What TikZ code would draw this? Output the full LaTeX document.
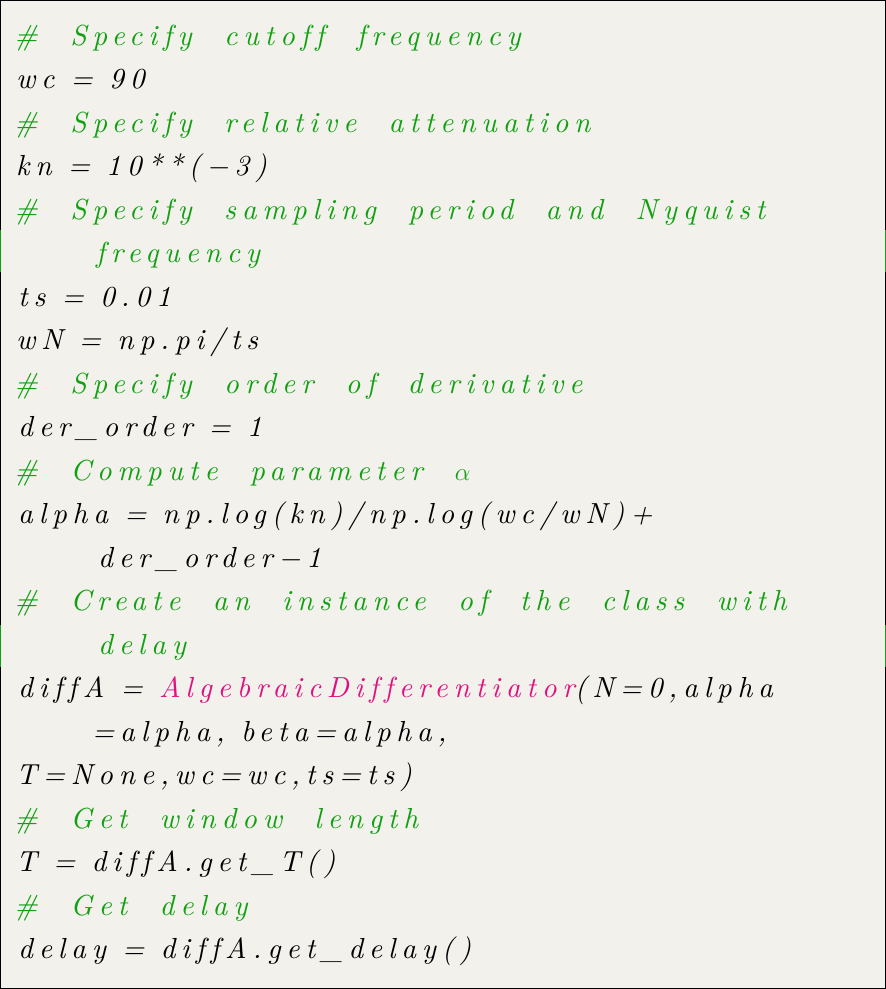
\documentclass[tikz,border=0pt]{standalone}
\usepackage{fontspec}
\newfontface\code{lmroman10-italic.otf}[LetterSpace=20,Ligatures={NoCommon}]
\definecolor{bg}{HTML}{F2F1EC}
\definecolor{cmtc}{HTML}{10A010}
\definecolor{pk}{HTML}{E0107F}
\begin{document}
\begin{tikzpicture}[x=1pt,y=-1pt,
  ln/.style={anchor=base west,inner sep=0pt,font=\code\fontsize{29}{29}\selectfont},
  cmt/.style={ln,text=cmtc}]
\useasboundingbox (0,0) rectangle (886,989);
\fill[bg,draw=black,line width=1.2pt] (0.6,0.6) rectangle (885.4,988.4);
\foreach \yy in {230,625}{
  \draw[draw=cmtc,line width=1.2pt] (0.6,\yy) -- (0.6,\yy+42);
  \draw[draw=cmtc,line width=1.2pt] (885.4,\yy) -- (885.4,\yy+42);}
\def\L#1{45+43.5*#1}
\node[cmt] (l0) at (14,{\L0}) {\#~ Specify~ cutoff~ frequency};
\node[ln] (l1) at (16,{\L1}) {wc = 90};
\node[cmt] (l2) at (14,{\L2}) {\#~ Specify~ relative~ attenuation};
\node[ln] (l3) at (16,{\L3}) {kn = 10**(−3)};
\node[cmt] (l4) at (14,{\L4}) {\#~ Specify~ sampling~ period~ and~ Nyquist};
\node[cmt] (l5) at (96,{\L5}) {frequency};
\node[ln] (l6) at (18,{\L6}) {ts = 0.01};
\node[ln] (l7) at (16,{\L7}) {wN = np.pi/ts};
\node[cmt] (l8) at (14,{\L8}) {\#~ Specify~ order~ of~ derivative};
\node[ln] (l9) at (18,{\L9}) {der\_order = 1};
\node[cmt] (l10) at (14,{\L{10}}) {\#~ Compute~ parameter~ $\alpha$};
\node[ln] (l11) at (18,{\L{11}}) {alpha = np.log(kn)/np.log(wc/wN)+};
\node[ln] (l12) at (98,{\L{12}}) {der\_order−1};
\node[cmt] (l13) at (14,{\L{13}}) {\#~ Create~ an~ instance~ of~ the~ class~ with};
\node[cmt] (l14) at (98,{\L{14}}) {delay};
\node[ln] (l15) at (18,{\L{15}}) {diffA = \textcolor{pk}{AlgebraicDifferentiator}(N=0,alpha};
\node[ln] (l16) at (92,{\L{16}}) {=alpha, beta=alpha,};
\node[ln] (l17) at (16,{\L{17}}) {T=None,wc=wc,ts=ts)};
\node[cmt] (l18) at (14,{\L{18}}) {\#~ Get~ window~ length};
\node[ln] (l19) at (16,{\L{19}}) {T = diffA.get\_T()};
\node[cmt] (l20) at (14,{\L{20}}) {\#~ Get~ delay};
\node[ln] (l21) at (18,{\L{21}}) {delay = diffA.get\_delay()};
\end{tikzpicture}
\end{document}
